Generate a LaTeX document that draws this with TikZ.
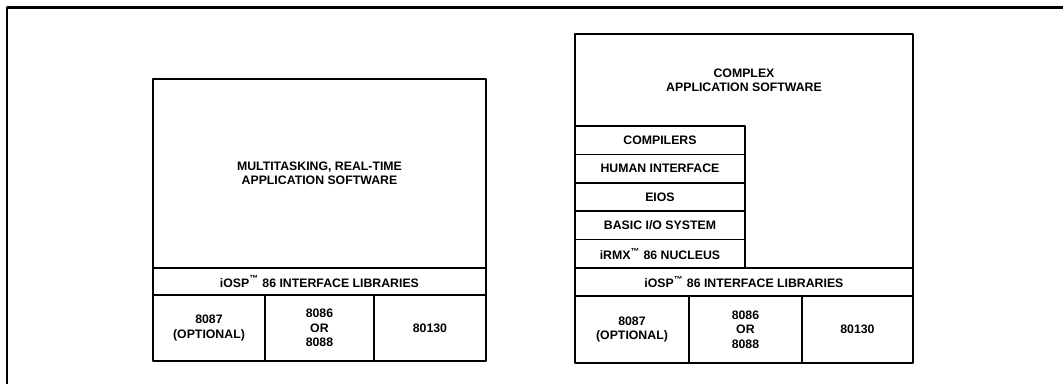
\documentclass[tikz,border=0pt]{standalone}
\usepackage{fontspec}
\setmainfont{Liberation Sans}
\usetikzlibrary{positioning}

\begin{document}
\begin{tikzpicture}[line cap=round,line join=round,x=0.02cm,y=-0.02cm,
		layer/.style={draw,line width=0.9pt,rectangle,inner sep=0pt,outer sep=0pt,align=center,
			font=\bfseries\fontsize{7}{8.2}\selectfont},
		chip/.style={layer,minimum height=1.32cm}]
		\useasboundingbox (0,0) rectangle (1063,384);
		% outer frame (top and left edge only)
		\draw [line width=1.2pt] (7,384) -- (7,7.5) -- (1063,7.5);
		% left stack
		\node [layer,anchor=north west,minimum width=6.66cm,minimum height=3.78cm] (appA) at (153,79) {MULTITASKING, REAL-TIME\\APPLICATION SOFTWARE};
		\node [layer,minimum width=6.66cm,minimum height=0.54cm,below=0pt of appA] (libA) {iOSP\textsuperscript{™} 86 INTERFACE LIBRARIES};
		\node [chip,anchor=north west,minimum width=2.24cm] (fpuA) at (libA.south west) {8087\\(OPTIONAL)};
		\node [chip,minimum width=2.18cm,right=0pt of fpuA] (cpuA) {8086\\OR\\8088};
		\node [chip,minimum width=2.24cm,right=0pt of cpuA] (osA) {80130};
		% right stack
		\node [layer,anchor=north west,minimum width=6.76cm,minimum height=4.68cm] (appB) at (575,34) {};
		\node [layer,draw=none] (appBtxt) at (744,80) {COMPLEX\\APPLICATION SOFTWARE};
		\node [layer,anchor=south west,minimum width=3.40cm,minimum height=0.568cm] (nucB) at (appB.south west) {iRMX\textsuperscript{™} 86 NUCLEUS};
		\node [layer,minimum width=3.40cm,minimum height=0.568cm,above=0pt of nucB] (biosB) {BASIC I/O SYSTEM};
		\node [layer,minimum width=3.40cm,minimum height=0.568cm,above=0pt of biosB] (eiosB) {EIOS};
		\node [layer,minimum width=3.40cm,minimum height=0.568cm,above=0pt of eiosB] (huiB) {HUMAN INTERFACE};
		\node [layer,minimum width=3.40cm,minimum height=0.568cm,above=0pt of huiB] (compB) {COMPILERS};
		\node [layer,minimum width=6.76cm,minimum height=0.56cm,below=0pt of appB] (libB) {iOSP\textsuperscript{™} 86 INTERFACE LIBRARIES};
		\node [layer,anchor=north west,minimum width=2.28cm,minimum height=1.34cm] (fpuB) at (libB.south west) {8087\\(OPTIONAL)};
		\node [layer,minimum width=2.26cm,minimum height=1.34cm,right=0pt of fpuB] (cpuB) {8086\\OR\\8088};
		\node [layer,minimum width=2.22cm,minimum height=1.34cm,right=0pt of cpuB] (osB) {80130};
	\end{tikzpicture}
\end{document}
